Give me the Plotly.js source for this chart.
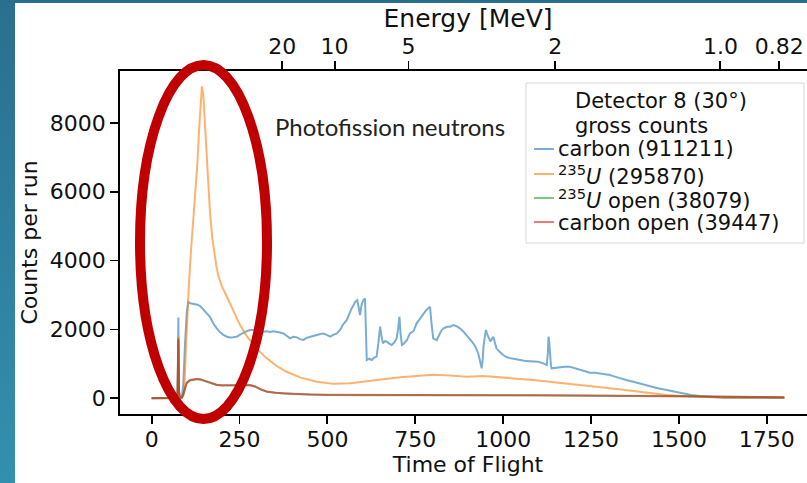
<!DOCTYPE html>
<html><head><meta charset="utf-8">
<script src="https://cdn.plot.ly/plotly-3.0.1.min.js"></script>
<style>
html,body{margin:0;padding:0;width:807px;height:483px;overflow:hidden;background:linear-gradient(180deg,#2a6f8e 0%,#3390ad 100%);}
#chart{position:absolute;left:15px;top:3px;width:815px;height:480px;background:#fff;}
</style></head><body><div id="chart"></div>
<script>
// ---- data ----
const tofCarbon = [0,20,40,60,72,74,76,77,78,82,86,90,95,100,104,110,120,130,138,150,160,166,175,185,195,204,214,223,232,242,252,261,270,280,290,299,308,318,327,337,346,356,365,375,385,394,404,413,422,432,442,451,460,470,480,489,498,508,518,527,536,545,555,562,569,575,579,585,589,593,597,602,607,610,612,619,626,633,640,645,650,654,658,664,669,676,683,690,697,701,705,708,712,716,726,735,745,754,764,773,781,787,792,796,801,811,818,825,832,840,849,858,866,877,886,896,905,915,922,929,935,939,942,944,948,951,955,958,961,964,968,972,977,981,990,1000,1010,1020,1030,1040,1048,1060,1075,1086,1100,1114,1120,1124,1127,1129,1131,1133,1136,1138,1150,1162,1175,1190,1205,1219,1233,1247,1262,1276,1290,1304,1318,1332,1350,1370,1395,1418,1440,1465,1490,1512,1535,1560,1585,1607,1630,1660,1700,1750,1800];
const cntCarbon = [10,12,10,12,15,300,2350,1200,200,50,40,400,1600,2500,2800,2760,2740,2720,2680,2550,2420,2370,2180,2030,1920,1840,1790,1770,1775,1790,1850,1905,1950,1985,1990,1980,1960,1935,1945,1930,1950,1935,1910,1885,1800,1745,1790,1770,1720,1695,1760,1790,1820,1840,1870,1885,1830,1790,1850,1885,1985,2150,2270,2450,2610,2720,2800,2850,2650,2420,2700,2850,2900,2000,1110,1150,1115,1180,1210,1600,2080,1800,1600,1660,1645,1590,1550,1620,1740,2000,2370,1900,1550,1570,1690,1887,1950,2177,2320,2467,2560,2613,2660,2200,1742,1692,1830,1983,2040,2079,2080,2128,2100,2032,1950,1838,1720,1597,1480,1306,1050,871,1150,1500,1800,1983,1850,1789,1700,1650,1720,1789,1600,1451,1350,1257,1200,1161,1150,1130,1112,1090,1080,1063,1060,1016,1000,967,1300,1789,1650,1300,950,871,890,900,915,919,870,822,790,745,740,725,700,677,630,580,530,484,410,338,290,242,190,145,100,67,45,29,20,15,12,10,8];

const tofU235 = [0,40,72,74,76,77,78,85,90,93,97,101,106,112,118,124,130,135,139,143,147,151,156,161,166,172,178,184,190,200,214,233,252,271,290,309,328,356,384,422,470,517,565,612,659,707,754,801,849,896,944,991,1039,1086,1133,1181,1228,1276,1323,1370,1418,1465,1512,1560,1610,1655,1700,1750,1800];
const cntU235 = [5,5,10,200,1800,900,100,20,80,300,1300,2300,3300,4300,5100,5800,6800,7800,8600,9060,8800,8100,7100,6200,5400,4700,4200,3850,3550,3250,2950,2520,2120,1800,1560,1340,1160,938,772,609,484,420,435,484,551,609,657,687,660,629,648,600,571,532,484,435,387,338,271,213,145,97,67,38,25,20,15,12,10];

const tofU235Open = [0,40,72,74,76,77,78,82,86,90,95,100,109,120,130,140,150,165,185,200,220,240,260,280,295,310,328,350,375,400,450,500,600,700,800,900,1000,1100,1200,1300,1400,1500,1600,1700,1800];
const cntU235Open = [5,5,10,150,1750,800,80,15,20,100,300,440,520,545,555,540,505,445,385,375,370,378,388,382,338,258,190,158,142,128,108,98,92,98,92,93,88,88,83,78,73,68,53,38,28];

const tofCarbonOpen = [0,40,72,74,76,77,78,82,86,90,95,100,109,120,130,140,150,165,185,200,220,240,260,280,295,310,328,350,375,400,450,500,600,700,800,900,1000,1100,1200,1300,1400,1500,1600,1700,1800];
const cntCarbonOpen = [5,5,10,160,1700,820,90,15,20,110,310,455,535,555,565,550,515,455,395,382,378,385,392,388,345,262,196,162,148,132,112,102,96,102,96,97,92,91,86,81,76,70,56,41,30];

const seriesNames = ['carbon (911211)', '<sup>235</sup><i>U</i> (295870)', '<sup>235</sup><i>U</i> open (38079)', 'carbon open (39447)'];
const seriesColors = ['rgba(31,119,180,0.6)', 'rgba(255,127,14,0.6)', 'rgba(44,160,44,0.6)', 'rgba(214,39,40,0.6)'];

const xTickVals = [0,250,500,750,1000,1250,1500,1750];
const yTickVals = [0,2000,4000,6000,8000];
const energyTicks = [20,10,5,2,1.0,0.82];
const energyTickText = ['20','10','5','2','1.0','0.82'];
// TOF = T0 + K / sqrt(E)   (secondary axis conversion)
const T0 = 13, K = 1605;
const energyTickTof = energyTicks.map(e => T0 + K / Math.sqrt(e));

// ---- layout helpers (page pixel -> paper fraction) ----
const OFFX = 15, OFFY = 3, ML = 105, MT = 68, PW = 696, PH = 343;
const pxX = x => (x - OFFX - ML) / PW;
const pxY = y => 1 - (y - OFFY - MT) / PH;

const font = 'DejaVu Sans, Verdana, sans-serif';
const xs = [tofCarbon, tofU235, tofU235Open, tofCarbonOpen];
const ys = [cntCarbon, cntU235, cntU235Open, cntCarbonOpen];
const traces = xs.map((x, i) => ({
  x: x, y: ys[i], type: 'scatter', mode: 'lines', name: seriesNames[i],
  line: {color: seriesColors[i], width: 2}, showlegend: false, hoverinfo: 'x+y',
  xaxis: i === 3 ? 'x2' : 'x'
}));

const shapes = [];
const annotations = [];
const legFont = {family: font, size: 21, color: '#111'};
// legend box
shapes.push({type: 'rect', xref: 'paper', yref: 'paper', x0: pxX(526), x1: pxX(804), y0: pxY(243), y1: pxY(83),
  line: {color: '#d6d6d6', width: 1}, fillcolor: 'rgba(255,255,255,0.8)', layer: 'above'});
annotations.push({xref: 'paper', yref: 'paper', x: pxX(573), y: pxY(101), xanchor: 'left', yanchor: 'middle',
  text: 'Detector 8 (30°)', showarrow: false, font: legFont});
annotations.push({xref: 'paper', yref: 'paper', x: pxX(573), y: pxY(126), xanchor: 'left', yanchor: 'middle',
  text: 'gross counts', showarrow: false, font: legFont});
const rowY = [149, 174, 198, 222];
const rowTextY = [149, 175, 199, 223];
seriesNames.forEach((n, i) => {
  shapes.push({type: 'line', xref: 'paper', yref: 'paper', x0: pxX(534), x1: pxX(554), y0: pxY(rowY[i]), y1: pxY(rowY[i]),
    line: {color: seriesColors[i], width: 2}, layer: 'above'});
  annotations.push({xref: 'paper', yref: 'paper', x: pxX(556), y: pxY(rowTextY[i]), xanchor: 'left', yanchor: 'middle',
    text: n, showarrow: false, font: legFont});
});
// annotation text
annotations.push({xref: 'paper', yref: 'paper', x: pxX(390), y: pxY(126), xanchor: 'center', yanchor: 'middle',
  text: 'Photofission neutrons', showarrow: false, font: {family: 'Lato, Open Sans, sans-serif', size: 24, color: '#222'}});
// red ellipse
shapes.push({type: 'circle', xref: 'paper', yref: 'paper', x0: pxX(140), x1: pxX(267), y0: pxY(419), y1: pxY(65),
  line: {color: '#c00000', width: 10}, fillcolor: 'rgba(0,0,0,0)', layer: 'above'});

const axisCommon = {showgrid: false, zeroline: false, showline: true, linecolor: '#000', linewidth: 1.8,
  ticks: 'outside', ticklen: 8, tickwidth: 1.8, tickcolor: '#000',
  tickfont: {family: font, size: 22, color: '#111'}};

const layout = {
  width: 815, height: 480,
  margin: {l: ML, r: 14, t: MT, b: 69},
  paper_bgcolor: '#fff', plot_bgcolor: '#fff',
  showlegend: false,
  xaxis: Object.assign({}, axisCommon, {range: [-90, 1890], tickvals: xTickVals, ticktext: xTickVals.map(String),
    ticklabelstandoff: -3, mirror: false,
    title: {text: 'Time of Flight', font: {family: font, size: 22, color: '#111'}, standoff: 2}}),
  xaxis2: Object.assign({}, axisCommon, {range: [-90, 1890], overlaying: 'x', side: 'top', anchor: 'y',
    tickvals: energyTickTof, ticktext: energyTickText, ticklabelstandoff: -2,
    title: {text: 'Energy [MeV]', font: {family: font, size: 25, color: '#111'}, standoff: 0}}),
  yaxis: Object.assign({}, axisCommon, {range: [-455, 9505], tickvals: yTickVals, ticktext: yTickVals.map(String),
    mirror: true, title: {text: 'Counts per run', font: {family: font, size: 22, color: '#111'}, standoff: 6}}),
  shapes: shapes, annotations: annotations
};
Plotly.newPlot('chart', traces, layout, {displayModeBar: false, staticPlot: true});
</script></body></html>
